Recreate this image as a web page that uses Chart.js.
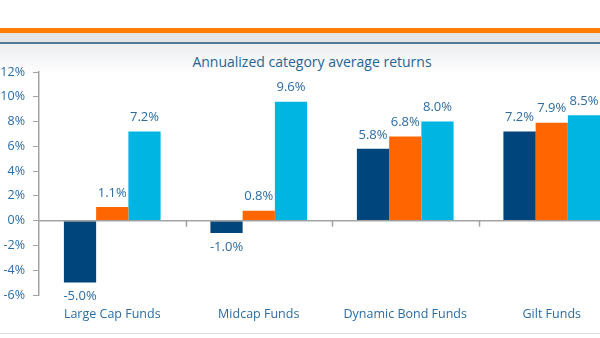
<!DOCTYPE html>
<html>
<head>
<meta charset="utf-8">
<script src="https://cdn.jsdelivr.net/npm/chart.js@4"></script>
<style>
  html, body { margin: 0; padding: 0; }
  body {
    width: 600px; height: 338px; overflow: hidden; position: relative;
    background: #fff; font-family: "Open Sans", sans-serif;
  }
  /* header decoration: orange band, grey strip, dark rule */
  .band { position: absolute; left: 0; width: 600px; top: 28px; height: 5px; background: #ff7d05; }
  .strip { position: absolute; left: 0; width: 600px; top: 33px; height: 9px; background: #e3e6e9; }
  .rule { position: absolute; left: 0; width: 600px; top: 42px; height: 2px; background: #4f7893; }
  .panel {
    position: absolute; left: 0; width: 600px; top: 44px; height: 289px;
    background: linear-gradient(#eceef0, #ffffff 30px);
    border-bottom: 1px solid #dcdcdc;
  }
  .title {
    position: absolute; top: 52px; left: 182px; width: 260px; text-align: center;
    font-size: 14px; color: #1f6596; white-space: nowrap; line-height: 20px;
  }
  #chart { position: absolute; left: 0; top: 0; }
</style>
</head>
<body>
<div class="band"></div>
<div class="strip"></div>
<div class="rule"></div>
<div class="panel"></div>
<div class="title">Annualized category average returns</div>
<canvas id="chart" width="625" height="338"></canvas>
<script>
// Chart data.
const categories = ["Large Cap Funds", "Midcap Funds", "Dynamic Bond Funds", "Gilt Funds"];
const seriesA = [-5.0, -1.0, 5.8, 7.2];   // navy
const seriesB = [1.1, 0.8, 6.8, 7.9];     // orange
const seriesC = [7.2, 9.6, 8.0, 8.5];     // cyan
const yTicks = [-6, -4, -2, 0, 2, 4, 6, 8, 10, 12];

const TEXT_BLUE = "#2b6ca3";
const AXIS_GREY = "#a3a3a3";

// Value labels above/below each bar.
const valueLabels = {
  id: "valueLabels",
  afterDatasetsDraw(chart) {
    const ctx = chart.ctx;
    ctx.save();
    ctx.font = '13px "Open Sans", sans-serif';
    ctx.fillStyle = TEXT_BLUE;
    ctx.textAlign = "center";
    ctx.textBaseline = "middle";
    chart.data.datasets.forEach((ds, i) => {
      chart.getDatasetMeta(i).data.forEach((bar, j) => {
        const v = ds.data[j];
        const y = v >= 0 ? bar.y - 14 : bar.y + 14;
        ctx.fillText(v.toFixed(1) + "%", bar.x, y);
      });
    });
    ctx.restore();
  },
};

// Zero line plus small tick marks between categories.
const zeroAxis = {
  id: "zeroAxis",
  afterDatasetsDraw(chart) {
    const { ctx, chartArea, scales } = chart;
    const y0 = scales.y.getPixelForValue(0);
    ctx.save();
    ctx.strokeStyle = AXIS_GREY;
    ctx.lineWidth = 1.5;
    ctx.beginPath();
    ctx.moveTo(chartArea.left, y0);
    ctx.lineTo(chartArea.right, y0);
    for (let i = 1; i < categories.length; i++) {
      const bx = Math.round((scales.x.getPixelForValue(i - 1) + scales.x.getPixelForValue(i)) / 2) + 0.5;
      ctx.moveTo(bx, y0);
      ctx.lineTo(bx, y0 + 6);
    }
    ctx.stroke();
    ctx.restore();
  },
};

new Chart(document.getElementById("chart"), {
  type: "bar",
  data: {
    labels: categories,
    datasets: [
      { data: seriesA, backgroundColor: "#00457c" },
      { data: seriesB, backgroundColor: "#ff6600" },
      { data: seriesC, backgroundColor: "#00b5e2" },
    ],
  },
  options: {
    responsive: false,
    animation: false,
    devicePixelRatio: 1,
    layout: { padding: { top: 72, left: 0, right: 0, bottom: 0 } },
    datasets: { bar: { categoryPercentage: 0.66, barPercentage: 1.0 } },
    plugins: { legend: { display: false }, tooltip: { enabled: false } },
    scales: {
      x: {
        grid: { display: false, drawTicks: false },
        border: { display: false },
        ticks: { color: TEXT_BLUE, padding: 12, font: { family: "Open Sans", size: 12.5 } },
        afterFit: (s) => { s.height = 43; },
      },
      y: {
        min: -6,
        max: 12,
        afterBuildTicks: (s) => { s.ticks = yTicks.map((v) => ({ value: v })); },
        grid: { drawOnChartArea: false, tickLength: 6, color: AXIS_GREY },
        border: { color: AXIS_GREY, width: 1.5 },
        ticks: {
          color: TEXT_BLUE,
          padding: 8,
          font: { family: "Open Sans", size: 12.5 },
          callback: (v) => v + "%",
        },
        afterFit: (s) => { s.width = 39; },
      },
    },
  },
  plugins: [valueLabels, zeroAxis],
});
</script>
</body>
</html>
